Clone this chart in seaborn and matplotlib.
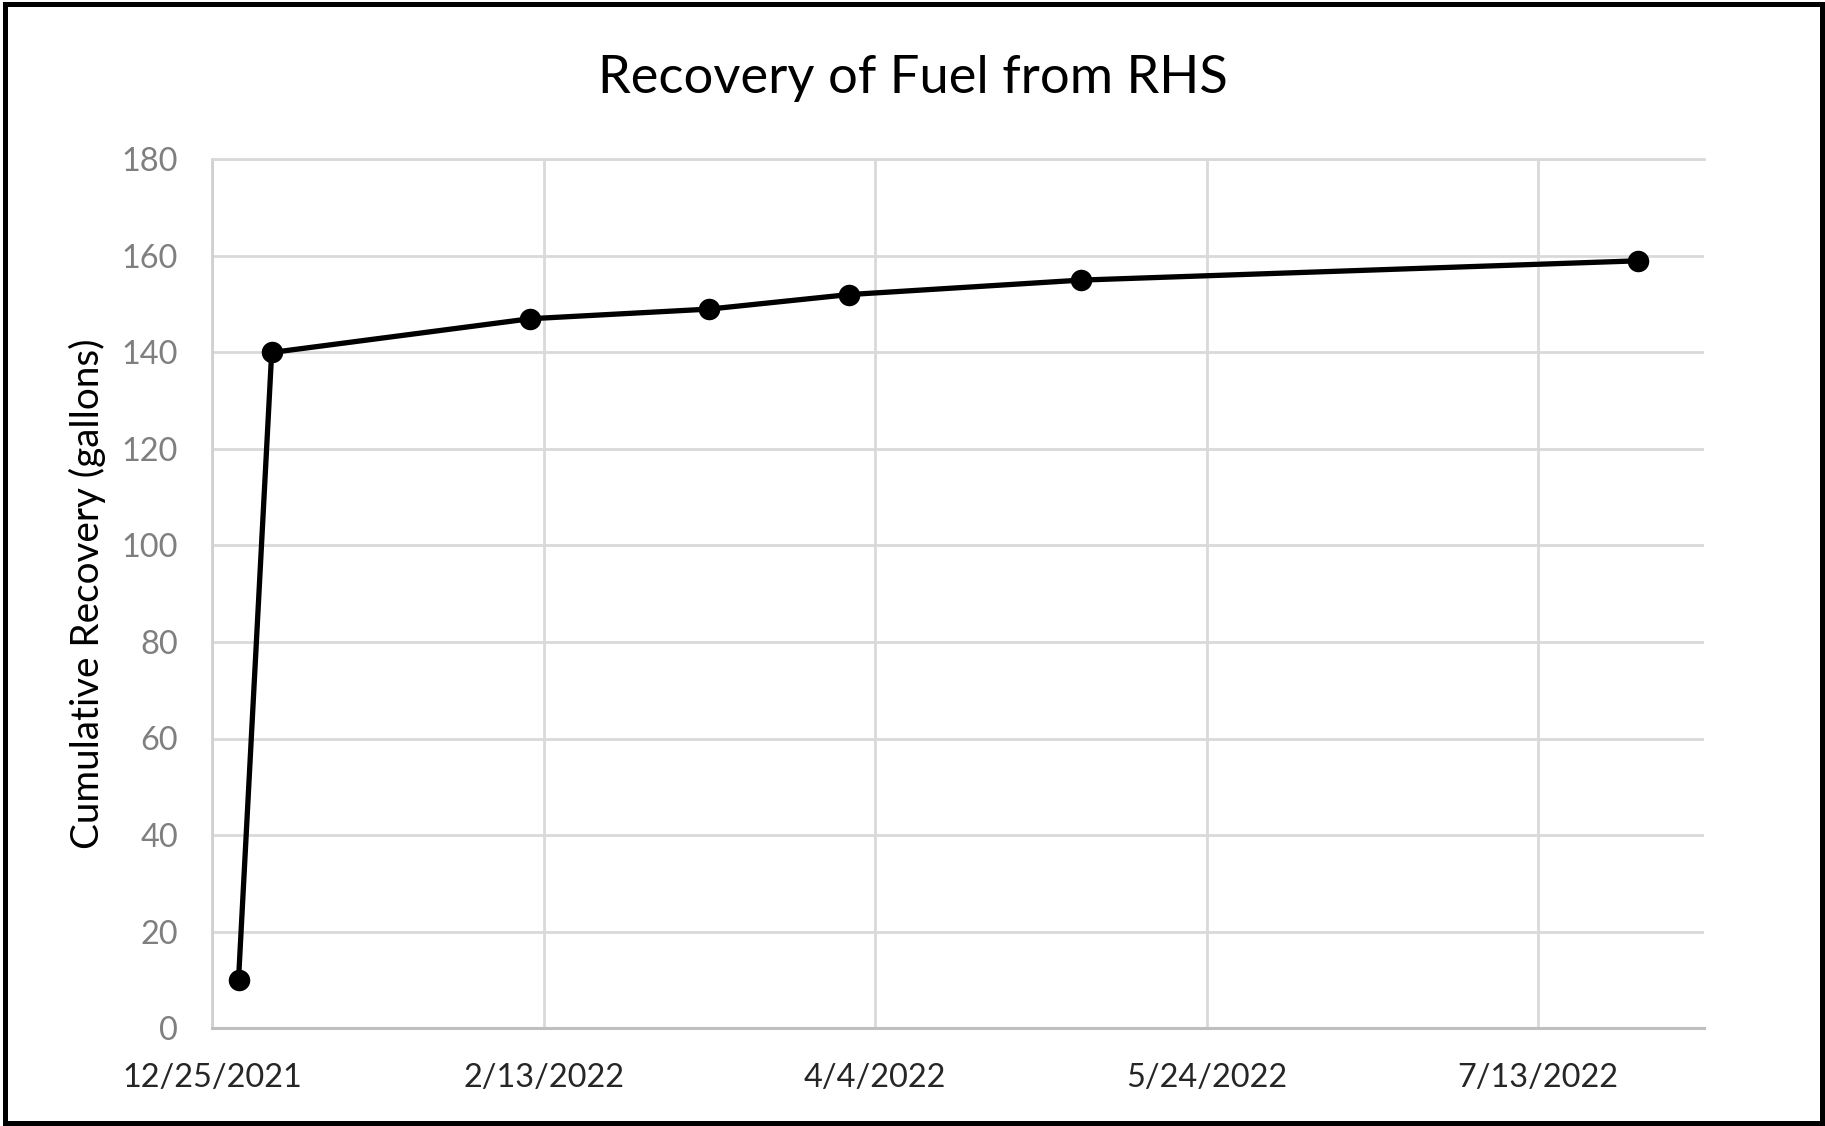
import matplotlib
matplotlib.use("Agg")
import matplotlib.pyplot as plt
from matplotlib.patches import Rectangle
import pandas as pd
import seaborn as sns

# Sampling events and cumulative fuel recovered
sample_dates = ["2021-12-29", "2022-01-03", "2022-02-11", "2022-03-10",
                "2022-03-31", "2022-05-05", "2022-07-28"]
cumulative_gallons = [10, 140, 147, 149, 152, 155, 159]

# Axis ticks and range
x_tick_dates = ["2021-12-25", "2022-02-13", "2022-04-04", "2022-05-24", "2022-07-13"]
x_tick_labels = ["12/25/2021", "2/13/2022", "4/4/2022", "5/24/2022", "7/13/2022"]
x_range = ["2021-12-25", "2022-08-07"]
y_ticks = [0, 20, 40, 60, 80, 100, 120, 140, 160, 180]

chart_title = "Recovery of Fuel from RHS"
y_title = "Cumulative Recovery (gallons)"

sns.set_theme(style="white")
plt.rcParams["font.family"] = ["Lato", "DejaVu Sans"]

df = pd.DataFrame({"date": pd.to_datetime(sample_dates),
                   "gallons": cumulative_gallons})

W, H = 1825, 1126
fig = plt.figure(figsize=(W / 100, H / 100), dpi=100)
left, right, top, bottom = 212, 1704, 159.5, 1028
ax = fig.add_axes([left / W, 1 - bottom / H, (right - left) / W, (bottom - top) / H])

sns.lineplot(data=df, x="date", y="gallons", ax=ax, color="black",
             linewidth=3.8, marker="o", markersize=15.5,
             markeredgecolor="black", markeredgewidth=0, zorder=3)

ax.set_xlim(pd.to_datetime(x_range))
ax.set_ylim(y_ticks[0], y_ticks[-1])
ax.set_xticks(pd.to_datetime(x_tick_dates))
ax.set_xticklabels(x_tick_labels)
ax.set_yticks(y_ticks)

ax.grid(True, color="#d9d9d9", linewidth=2.0)
ax.set_axisbelow(True)
ax.spines["right"].set_visible(False)
ax.spines["top"].set_color("#d9d9d9")
ax.spines["top"].set_linewidth(2.0)
ax.spines["left"].set_color("#d0d0d0")
ax.spines["left"].set_linewidth(2.0)
ax.spines["bottom"].set_color("#bfbfbf")
ax.spines["bottom"].set_linewidth(2.2)

ax.tick_params(axis="y", length=0, pad=24.5, labelsize=23.4, labelcolor="#7f7f7f")
ax.tick_params(axis="x", length=0, pad=25, labelsize=23.4, labelcolor="#262626")

ax.set_xlabel("")
ax.set_ylabel(y_title, fontsize=27.8, color="black", va="center")
ax.yaxis.set_label_coords((87 - left) / (right - left), 0.5)

fig.text(0.5, 1 - 93 / H, chart_title, ha="center", va="baseline",
         fontsize=37.8, color="black")

# Outer chart border
fig.add_artist(Rectangle((5 / W, 3 / H), 1817 / W, 1119 / H,
                         transform=fig.transFigure, fill=False,
                         edgecolor="black", linewidth=3.6))

fig.savefig("out.png", dpi=100)
